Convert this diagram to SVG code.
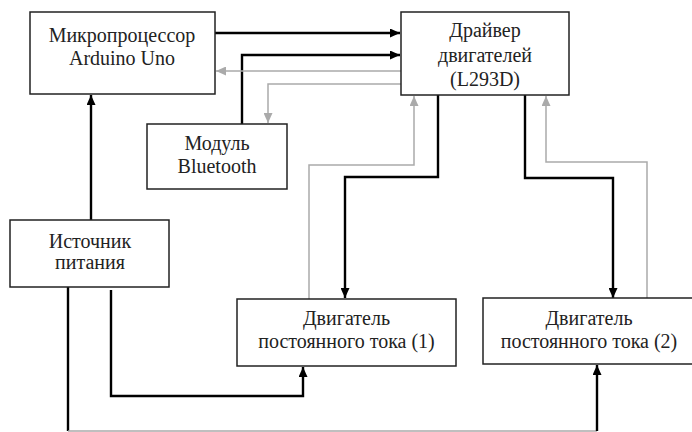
<svg xmlns="http://www.w3.org/2000/svg" width="692" height="432" viewBox="0 0 692 432">
<style>
.box{fill:#fff;stroke:#222;stroke-width:1.5}
.t{font-family:"Liberation Serif","Times New Roman",serif;font-size:20px;fill:#222;text-anchor:middle}
.k{fill:none;stroke:#000;stroke-width:2.4}
.g{fill:none;stroke:#aaa;stroke-width:1.5}
</style>
<defs>
<marker id="ab" markerUnits="userSpaceOnUse" markerWidth="10" markerHeight="9" refX="10" refY="4.5" orient="auto"><path d="M0,0 L10,4.5 L0,9 z" fill="#000"/></marker>
<marker id="ag" markerUnits="userSpaceOnUse" markerWidth="10" markerHeight="9" refX="10" refY="4.5" orient="auto"><path d="M0,0 L10,4.5 L0,9 z" fill="#aaa"/></marker>
</defs>
<rect width="692" height="432" fill="#fff"/>
<g id="connectors">
<path class="k" d="M215,33 H400" marker-end="url(#ab)"/>
<path class="k" d="M242,124 V55 H400" marker-end="url(#ab)"/>
<path class="g" d="M401,71 H216" marker-end="url(#ag)"/>
<path class="g" d="M401,84 H268 V123" marker-end="url(#ag)"/>
<path class="k" d="M91,220 V95" marker-end="url(#ab)"/>
<path class="k" d="M438,95 V177 H345 V298" marker-end="url(#ab)"/>
<path class="g" d="M309,299 V165 H414 V96" marker-end="url(#ag)"/>
<path class="k" d="M525,95 V178 H613 V298" marker-end="url(#ab)"/>
<path class="g" d="M647,299 V162 H546 V96" marker-end="url(#ag)"/>
<path class="k" d="M111,290 V396 H303 V367" marker-end="url(#ab)"/>
<path class="k" d="M68,287 V431"/>
<path class="g" d="M68,431 H597"/>
<path class="k" d="M597,431 V365" marker-end="url(#ab)"/>
</g>
<g id="mcu">
<rect class="box" x="30" y="12" width="185" height="82"/>
<text class="t" x="122" y="42">Микропроцессор</text>
<text class="t" x="122" y="65">Arduino Uno</text>
</g>
<g id="driver">
<rect class="box" x="401" y="12" width="168" height="83"/>
<text class="t" x="485" y="37">Драйвер</text>
<text class="t" x="485" y="62">двигателей</text>
<text class="t" x="485" y="86">(L293D)</text>
</g>
<g id="bluetooth">
<rect class="box" x="147" y="124" width="140" height="65"/>
<text class="t" x="217" y="150">Модуль</text>
<text class="t" x="217" y="173">Bluetooth</text>
</g>
<g id="power">
<rect class="box" x="10" y="220" width="159" height="67"/>
<text class="t" x="90" y="248">Источник</text>
<text class="t" x="90" y="269">питания</text>
</g>
<g id="motor1">
<rect class="box" x="237" y="299" width="219" height="67"/>
<text class="t" x="346.5" y="325">Двигатель</text>
<text class="t" x="346.5" y="348">постоянного тока (1)</text>
</g>
<g id="motor2">
<rect class="box" x="483" y="298" width="213" height="66"/>
<text class="t" x="589" y="325">Двигатель</text>
<text class="t" x="589" y="348">постоянного тока (2)</text>
</g>
</svg>
